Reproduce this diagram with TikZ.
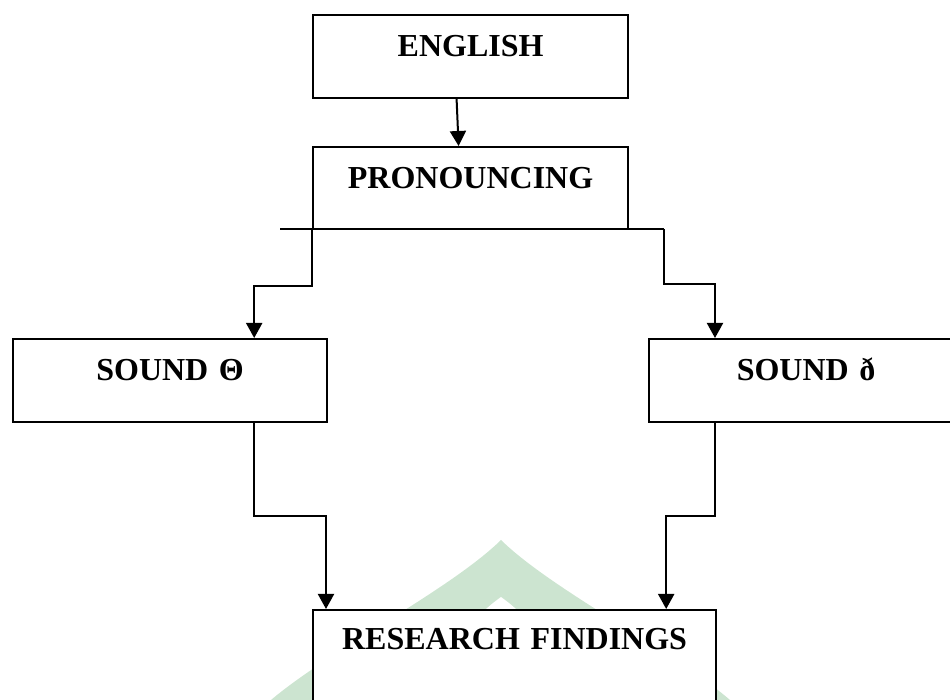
\documentclass[tikz,border=0pt]{standalone}
\usepackage{fontspec}
\setmainfont{Liberation Serif}
\usetikzlibrary{arrows.meta}
\definecolor{logogreen}{RGB}{204,228,208}
\tikzset{
  box/.style={draw, line width=1.1pt, fill=white, inner sep=0pt, align=center,
    anchor=north west, font=\fontsize{16}{19}\selectfont\bfseries},
  arr/.style={line width=1pt, -{Triangle[length=7.5pt,width=8pt]}},
  link/.style={line width=1.1pt}
}
\begin{document}
\begin{tikzpicture}[x=0.5pt, y=-0.5pt]
      \useasboundingbox (0,0) rectangle (950,700);
      % faint logo behind the last box
      \fill[logogreen] (271,700) .. controls (330,650) and (450,590) .. (501,540)
        .. controls (552,590) and (672,650) .. (730,700) -- cycle;
      \fill[white] (430,700) .. controls (450,640) and (480,612) .. (501,597)
        .. controls (522,612) and (552,640) .. (572,700) -- cycle;
      \node[box, text width=157.5pt, text height=20.5pt, text depth=21pt] (english) at (312,14) {ENGLISH};
      \node[box, text width=157.5pt, text height=20.5pt, text depth=20.5pt] (pron) at (312,146) {PRONOUNCING};
      \node[box, text width=157pt, text height=20.5pt, text depth=21pt] (th) at (12,338) {SOUND Θ};
      \node[box, text width=157pt, text height=20.5pt, text depth=21pt] (dh) at (648,338) {SOUND ð};
      \node[box, text width=201.5pt, text height=19.5pt, text depth=50.5pt] (findings) at (312,609) {RESEARCH FINDINGS\hspace*{10.5pt}};
      \coordinate (splitL) at (280,229);
      \coordinate (splitR) at (664,229);
      \draw[arr] ([xshift=-7pt]english.south) -- ([xshift=-6pt]pron.north);
      \draw[link] (splitL) -- (splitR);
      \draw[arr] (pron.south west) -- ++(0,56) -| ([xshift=-37pt]th.north east);
      \draw[arr] (splitR) -- ++(0,55) -| ([xshift=33.5pt]dh.north west);
      \draw[arr] ([xshift=-37pt]th.south east) -- ++(0,93) -| ([xshift=7pt]findings.north west);
      \draw[arr] ([xshift=33.5pt]dh.south west) -- ++(0,93) -| ([xshift=-25.5pt]findings.north east);
    \end{tikzpicture}
\end{document}
